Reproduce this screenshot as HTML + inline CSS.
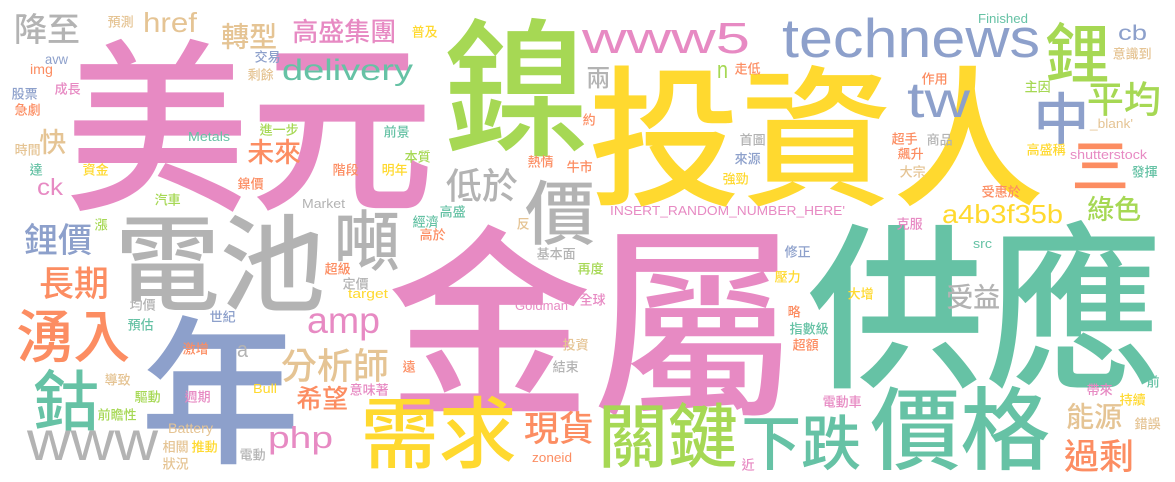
<!DOCTYPE html>
<html><head><meta charset="utf-8"><style>
html,body{margin:0;padding:0;background:#fff;}
svg{display:block;}
text{font-family:"Liberation Sans","Noto Sans CJK TC",sans-serif;}
</style></head><body>
<svg id="cloud" width="1175" height="482" viewBox="0 0 1175 482" xmlns="http://www.w3.org/2000/svg">
<rect x="0" y="0" width="1175" height="482" fill="#ffffff"/>
</svg>
<script>
const palette = {P:"#e78ac3",G:"#a6d854",Y:"#ffd92f",T:"#66c2a5",O:"#fc8d62",B:"#8da0cb",Gr:"#b3b3b3",Tn:"#e5c494"};
// CJK words: text, ink-left, ink-top, size, color
const cjkWords = [
["美元",70,33,185,"P"],["鎳",447,13,149,"G"],["投資人",593,60,152,"Y"],["金屬",393,219,205,"P"],
["供應",812,217,178,"T"],["電池",118,210,105,"Gr"],["年",145,310,160,"B"],["價格",873,383,90,"T"],
["需求",363,393,78,"Y"],["關鍵",600,400,70,"G"],["下跌",743,412,60,"T"],["噸",336,207,66,"Gr"],
["價",527,177,70,"Gr"],["低於",447,167,36,"Gr"],["鋰",1047,20,65,"G"],["中",1035,90,56,"B"],
["平均",1088,80,37,"G"],["三",1073,136,58,"O"],["綠色",1088,195,27,"G"],["受益",947,283,27,"Gr"],
["能源",1067,402,28,"Tn"],["過剩",1065,438,35,"O"],["降至",15,12,33,"Gr"],["轉型",222,22,28,"Tn"],
["高盛集團",293,18,26,"P"],["快",40,128,27,"Tn"],["未來",248,138,27,"O"],["鋰價",25,222,34,"B"],
["長期",40,265,35,"O"],["湧入",18,307,57,"O"],["鈷",35,367,66,"T"],["分析師",282,347,36,"Tn"],
["希望",297,385,26,"O"],["現貨",525,410,35,"O"],["兩",587,65,24,"Gr"]
];
// small CJK words (size 13): text, ink-left, ink-top, color
const smallWords = [
["預測",108,15,"Tn"],["交易",255,50,"B"],["剩餘",248,68,"Tn"],["股票",12,87,"B"],["成長",55,82,"P"],
["急劇",15,103,"O"],["時間",15,143,"Tn"],["達",30,163,"T"],["資金",83,163,"Y"],["汽車",155,193,"G"],
["漲",95,218,"G"],["進一步",260,123,"G"],["前景",384,125,"T"],["階段",333,163,"O"],["明年",382,163,"Y"],
["鎳價",238,177,"O"],["本質",405,150,"G"],["普及",412,25,"Y"],["走低",735,62,"O"],["約",583,113,"O"],
["首圖",740,133,"Gr"],["來源",735,152,"B"],["強勁",723,172,"Y"],["熱情",528,155,"O"],["牛市",567,160,"O"],
["高盛",440,205,"T"],["經濟",413,215,"T"],["高於",420,228,"O"],["反",517,217,"Tn"],["基本面",537,247,"Gr"],
["修正",785,245,"B"],["意識到",1113,47,"Tn"],["作用",922,72,"O"],["主因",1025,80,"G"],["超手",892,132,"O"],
["商品",927,133,"Gr"],["飆升",898,147,"O"],["大宗",900,165,"Tn"],["高盛稱",1027,143,"Y"],["發揮",1132,165,"T"],
["受惠於",982,185,"O"],["克服",897,217,"P"],["壓力",775,270,"Y"],["大增",848,287,"Y"],["略",788,305,"O"],
["指數級",790,322,"T"],["超額",793,338,"O"],["前",1147,375,"T"],["帶來",1087,383,"P"],["持續",1120,393,"Y"],
["錯誤",1135,417,"Tn"],["電動車",823,395,"P"],["全球",580,293,"P"],["再度",578,262,"G"],["投資",563,338,"Tn"],
["結束",553,360,"Gr"],["遠",403,360,"O"],["均價",130,298,"Gr"],["預估",128,318,"T"],["世紀",210,310,"B"],
["激增",183,342,"O"],["導致",105,373,"Tn"],["驅動",135,390,"G"],["週期",185,390,"P"],["前瞻性",98,408,"G"],
["相關",163,440,"Tn"],["推動",192,440,"Y"],["狀況",163,457,"Tn"],["電動",240,448,"Gr"],["超級",325,262,"O"],
["定價",343,277,"Gr"],["意味著",350,383,"P"],["近",742,458,"P"]
];
// Latin words: text, ink-left, baseline, size, width, color
const latinWords = [
["href",143,32,28,54,"Tn"],["avw",45,64,14,23,"B"],["img",30,74,14,23,"O"],["ck",37,195,23,26,"P"],
["delivery",282,80,30,131,"T"],["Metals",188,141,13,42,"T"],["Market",302,208,13,43,"Gr"],
["www5",582,53,44,168,"P"],["technews",782,57,55,258,"B"],["n",717,78,24,11,"G"],
["INSERT_RANDOM_NUMBER_HERE'",610,215,13,235,"P"],["cb",1118,40,21,29,"B"],["tw",907,117,50,63,"B"],
["_blank'",1090,128,13,43,"Tn"],["shutterstock",1070,159,13,77,"P"],["a4b3f35b",942,223,26,121,"Y"],
["src",973,248,13,19,"T"],["Finished",978,23,13,50,"T"],["Goldman",515,310,13,53,"P"],
["zoneid",532,462,13,40,"O"],["www",27,460,56,131,"Gr"],["a",237,357,22,11,"Gr"],
["Battery",168,433,14,45,"Tn"],["Bull",253,393,13,24,"Y"],["target",348,298,13,40,"Y"],
["amp",307,333,37,73,"P"],["php",268,448,31,65,"P"]
];
const svg = document.getElementById('cloud');
const NS = "http://www.w3.org/2000/svg";
function addText(t, x, y, size, color, len, weight){
  const el = document.createElementNS(NS,'text');
  
  
  el.setAttribute('x', x);
  el.setAttribute('y', y);
  el.setAttribute('font-size', size);
  el.setAttribute('fill', palette[color]);
  if (weight) el.setAttribute('font-weight', weight);
  if (len) { el.setAttribute('textLength', len); el.setAttribute('lengthAdjust', 'spacingAndGlyphs'); }
  el.textContent = t;
  svg.appendChild(el);
}
cjkWords.forEach(w => {
  const [t,x,y,s,c] = w;
  addText(t, x - 0.03*s, y + 0.88*s, s, c, t.length*s, 500);
});
smallWords.forEach(w => {
  const [t,x,y,c] = w; const s = 13;
  addText(t, x - 0.4, y + 0.88*s, s, c, t.length*s, 500);
});
latinWords.forEach(w => {
  const [t,x,b,s,wd,c] = w;
  addText(t, x, b, s, c, wd);
});
</script>
</body></html>
